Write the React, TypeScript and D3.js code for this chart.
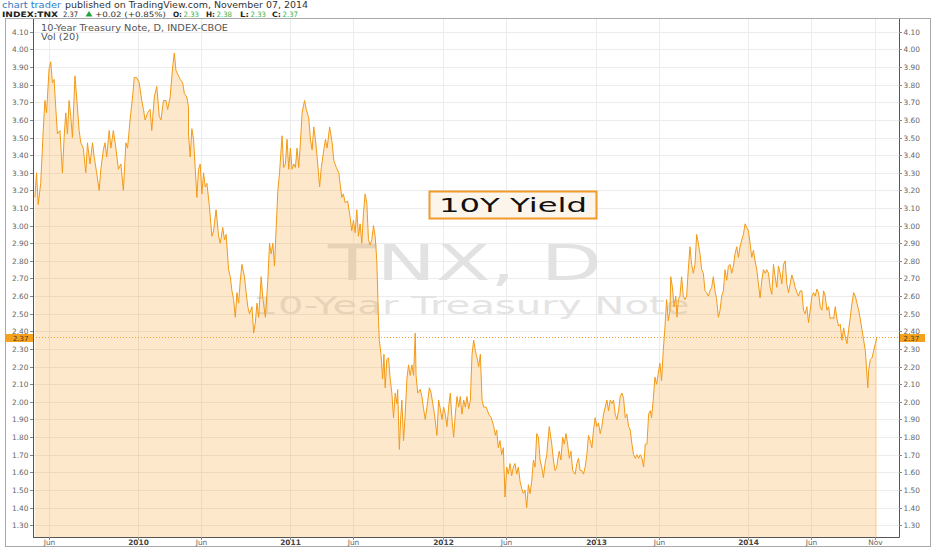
import { useEffect, useRef } from "react";
import * as d3 from "d3";

// [days after segment start, yield %]
const seg2009: [number, number][] = [
  [16, 3.16], [20, 3.3], [24, 3.12], [30, 3.24], [36, 3.54], [40, 3.71], [44, 3.64], [50, 3.89],
  [54, 3.93], [58, 3.81], [62, 3.83], [66, 3.67], [70, 3.52], [76, 3.54], [82, 3.3], [86, 3.5],
  [90, 3.64], [94, 3.52], [98, 3.71], [102, 3.62], [106, 3.5], [112, 3.85], [116, 3.73], [122, 3.54],
  [126, 3.47], [132, 3.44], [138, 3.3], [142, 3.47], [148, 3.35], [154, 3.47], [158, 3.39], [164, 3.3],
  [170, 3.2], [174, 3.32], [180, 3.43], [184, 3.47], [188, 3.39], [194, 3.54], [198, 3.44], [204, 3.54],
  [210, 3.44], [216, 3.32], [222, 3.35], [228, 3.2], [234, 3.47], [238, 3.44], [244, 3.6], [250, 3.73],
  [254, 3.84], [260, 3.84], [266, 3.81], [272, 3.71], [276, 3.66], [280, 3.6], [286, 3.64], [292, 3.66],
  [296, 3.54], [302, 3.73], [308, 3.79], [314, 3.62], [318, 3.6], [324, 3.71], [330, 3.71], [334, 3.66],
  [340, 3.73], [346, 3.9], [350, 3.98], [354, 3.88], [358, 3.86], [364, 3.83], [370, 3.81], [374, 3.75],
  [380, 3.73], [384, 3.67],
];

const seg2010: [number, number][] = [
  [20, 3.52], [24, 3.39], [28, 3.55], [32, 3.49], [36, 3.33], [40, 3.16], [44, 3.32], [48, 3.35],
  [52, 3.18], [56, 3.3], [60, 3.22], [64, 3.24], [70, 3.11], [76, 2.94], [80, 2.97], [86, 3.09],
  [92, 2.94], [96, 2.9], [102, 2.99], [106, 2.92], [110, 2.95], [116, 2.75], [120, 2.71], [124, 2.63],
  [128, 2.58], [132, 2.48], [136, 2.62], [140, 2.56], [144, 2.69], [148, 2.78], [154, 2.71], [158, 2.62],
  [162, 2.54], [166, 2.5], [172, 2.54], [176, 2.39], [180, 2.45], [184, 2.56], [188, 2.48], [194, 2.71],
  [198, 2.59], [204, 2.48], [210, 2.69], [214, 2.9], [218, 2.84], [222, 2.9], [226, 2.77], [230, 2.99],
  [234, 3.2], [238, 3.3], [244, 3.51], [248, 3.33], [252, 3.35], [256, 3.49], [260, 3.32], [264, 3.44],
  [268, 3.32], [272, 3.35], [276, 3.33], [280, 3.44], [284, 3.33], [288, 3.47], [292, 3.64], [298, 3.71],
  [302, 3.66], [308, 3.61], [312, 3.49], [316, 3.43], [320, 3.56], [324, 3.49], [328, 3.39], [334, 3.22],
  [338, 3.33], [344, 3.43], [348, 3.49], [352, 3.44], [358, 3.56], [364, 3.47], [368, 3.37], [374, 3.33],
  [380, 3.3], [384, 3.22],
];

const seg2011: [number, number][] = [
  [16, 3.16], [20, 3.18], [24, 3.13], [30, 3.14], [36, 3.05], [40, 2.97], [44, 3.03], [48, 2.96],
  [52, 3.09], [56, 2.94], [60, 3.01], [64, 2.9], [68, 3.07], [72, 3.18], [76, 3.13], [80, 2.92],
  [84, 2.89], [88, 2.92], [92, 3.0], [96, 2.94], [100, 2.8], [104, 2.46], [106, 2.35], [110, 2.27],
  [114, 2.13], [117, 2.27], [120, 2.08], [124, 2.24], [128, 2.25], [132, 2.13], [136, 2.05], [140, 1.91],
  [144, 2.05], [148, 1.99], [150, 2.07], [154, 1.73], [157, 1.9], [160, 2.01], [164, 1.78], [168, 1.93],
  [172, 2.13], [176, 2.21], [180, 2.15], [184, 2.21], [188, 2.15], [192, 2.39], [194, 2.15], [198, 2.05],
  [204, 2.07], [208, 2.03], [212, 1.96], [216, 1.9], [220, 1.97], [226, 2.08], [230, 2.05], [234, 1.99],
  [238, 1.93], [244, 1.81], [248, 2.01], [252, 1.96], [256, 1.9], [260, 1.97], [264, 1.93], [268, 1.86],
  [272, 1.97], [276, 2.05], [280, 1.9], [284, 1.8], [288, 1.93], [292, 2.03], [296, 1.97], [300, 2.03],
  [304, 1.93], [308, 2.01], [312, 1.97], [316, 2.03], [320, 1.96], [324, 2.01], [328, 2.27], [332, 2.35],
  [336, 2.29], [340, 2.25], [344, 2.2], [348, 2.27], [352, 2.01], [356, 1.97], [362, 1.97], [368, 1.93],
  [374, 1.91], [380, 1.86], [384, 1.81],
];

const seg2012: [number, number][] = [
  [16, 1.84], [20, 1.74], [24, 1.78], [28, 1.7], [32, 1.74], [36, 1.46], [40, 1.63], [44, 1.59],
  [48, 1.65], [52, 1.58], [56, 1.63], [60, 1.65], [64, 1.59], [68, 1.63], [72, 1.55], [76, 1.51],
  [80, 1.48], [84, 1.5], [88, 1.4], [92, 1.53], [96, 1.48], [100, 1.55], [104, 1.67], [108, 1.63],
  [112, 1.82], [116, 1.8], [120, 1.67], [124, 1.63], [128, 1.57], [132, 1.65], [136, 1.7], [142, 1.86],
  [148, 1.76], [152, 1.67], [156, 1.61], [160, 1.63], [164, 1.7], [166, 1.72], [170, 1.67], [174, 1.8],
  [178, 1.76], [182, 1.82], [186, 1.76], [190, 1.68], [194, 1.72], [198, 1.61], [204, 1.59], [208, 1.65],
  [212, 1.68], [216, 1.61], [220, 1.61], [224, 1.59], [228, 1.63], [232, 1.7], [236, 1.81], [240, 1.78],
  [244, 1.74], [248, 1.84], [252, 1.91], [256, 1.86], [260, 1.88], [264, 1.82], [268, 1.86], [272, 1.93],
  [276, 1.97], [280, 2.01], [284, 1.95], [288, 2.01], [292, 1.99], [296, 2.01], [300, 1.93], [304, 1.9],
  [308, 1.95], [312, 2.03], [316, 2.05], [320, 2.02], [324, 1.91], [328, 1.93], [332, 1.86], [336, 1.84],
  [340, 1.76], [344, 1.7], [348, 1.68], [352, 1.7], [356, 1.68], [360, 1.7], [364, 1.68], [368, 1.63],
  [372, 1.76], [376, 1.76], [380, 1.93], [384, 1.95],
];

const seg2013: [number, number][] = [
  [16, 1.91], [20, 2.01], [24, 2.14], [28, 2.1], [32, 2.16], [36, 2.22], [40, 2.12], [44, 2.29],
  [48, 2.42], [52, 2.58], [56, 2.46], [60, 2.52], [62, 2.71], [66, 2.65], [70, 2.54], [74, 2.6],
  [77, 2.48], [80, 2.58], [84, 2.6], [88, 2.71], [92, 2.6], [96, 2.58], [100, 2.6], [104, 2.75],
  [108, 2.88], [112, 2.78], [116, 2.73], [120, 2.78], [124, 2.95], [128, 2.9], [132, 2.84], [136, 2.75],
  [140, 2.73], [144, 2.63], [148, 2.62], [152, 2.6], [156, 2.63], [160, 2.65], [164, 2.71], [168, 2.63],
  [172, 2.58], [176, 2.48], [180, 2.52], [184, 2.6], [188, 2.63], [192, 2.75], [196, 2.69], [200, 2.77],
  [204, 2.78], [208, 2.73], [212, 2.77], [216, 2.84], [220, 2.88], [224, 2.82], [228, 2.88], [232, 2.92],
  [236, 2.95], [240, 3.01], [244, 2.99], [248, 2.97], [252, 2.9], [256, 2.82], [260, 2.86], [264, 2.8],
  [268, 2.75], [272, 2.67], [276, 2.59], [280, 2.69], [284, 2.75], [288, 2.73], [292, 2.75], [296, 2.73],
  [300, 2.65], [304, 2.61], [308, 2.78], [312, 2.71], [316, 2.65], [320, 2.77], [324, 2.73], [328, 2.67],
  [332, 2.78], [336, 2.8],
];

const seg2014: [number, number][] = [
  [16, 2.67], [20, 2.62], [24, 2.67], [28, 2.72], [32, 2.69], [36, 2.65], [40, 2.62], [44, 2.6],
  [48, 2.63], [52, 2.63], [56, 2.52], [60, 2.5], [64, 2.54], [68, 2.45], [72, 2.52], [76, 2.6],
  [80, 2.62], [84, 2.6], [88, 2.64], [92, 2.62], [96, 2.54], [100, 2.52], [104, 2.63], [108, 2.6],
  [112, 2.52], [116, 2.54], [120, 2.47], [124, 2.48], [128, 2.47], [132, 2.54], [136, 2.47], [140, 2.43],
  [144, 2.44], [148, 2.35], [152, 2.42], [156, 2.37], [160, 2.33], [164, 2.41], [168, 2.48], [172, 2.56],
  [176, 2.62], [180, 2.6], [184, 2.56], [188, 2.52], [192, 2.47], [196, 2.41], [200, 2.35], [204, 2.29],
  [210, 2.08], [212, 2.18], [216, 2.24], [220, 2.25], [224, 2.29], [228, 2.33], [232, 2.37],
];

const segmentStarts = ["2009-04-13", "2010-04-12", "2011-04-18", "2012-04-23", "2013-04-29", "2014-03-19"];
const segmentPoints = [seg2009, seg2010, seg2011, seg2012, seg2013, seg2014];

const xTickDates = [
  "2009-06-01", "2010-01-01", "2010-06-01", "2011-01-01", "2011-06-01", "2012-01-01",
  "2012-06-01", "2013-01-01", "2013-06-01", "2014-01-01", "2014-06-01", "2014-11-01",
];
const yTickValues = d3.range(13, 42).map((d) => d / 10);

const lastPrice = 2.37;
const headerQuote = [
  { label: "O:", value: "2.33", x: 173 },
  { label: "H:", value: "2.38", x: 206 },
  { label: "L:", value: "2.33", x: 240 },
  { label: "C:", value: "2.37", x: 272 },
];

const W = 932;
const H = 550;
const FONT = "'DejaVu Sans', Verdana, sans-serif";

export default function App() {
  const svgRef = useRef<SVGSVGElement | null>(null);

  useEffect(() => {
    const svg = d3.select(svgRef.current);
    svg.selectAll("*").remove();

    const plot = { left: 33, right: 899, top: 19, bottom: 537 };
    const parse = d3.timeParse("%Y-%m-%d");

    const data = segmentPoints.flatMap((pts, i) => {
      const start = parse(segmentStarts[i]) as Date;
      return pts.map(([d, v]) => ({ date: d3.timeDay.offset(start, d), value: v }));
    });

    const x = d3
      .scaleTime()
      .domain([new Date(2010, 0, 1), new Date(2014, 0, 1)])
      .range([138, 748]);
    const y = d3.scaleLinear().domain([1.3, 4.1]).range([525.2, 31.8]);

    // frame
    svg
      .append("rect")
      .attr("x", 5.5)
      .attr("y", 18.5)
      .attr("width", 925)
      .attr("height", 528)
      .attr("fill", "#fff")
      .attr("stroke", "#a9a9a9");

    // header
    const h1 = svg.append("g").attr("font-size", 8.6);
    h1.append("text")
      .attr("x", 2)
      .attr("y", 8.4)
      .attr("fill", "#2f7bc4")
      .attr("textLength", 59)
      .attr("lengthAdjust", "spacingAndGlyphs")
      .text("chart trader");
    h1.append("text")
      .attr("x", 65)
      .attr("y", 8.4)
      .attr("fill", "#333")
      .attr("textLength", 243)
      .attr("lengthAdjust", "spacingAndGlyphs")
      .text("published on TradingView.com, November 07, 2014");

    const h2 = svg.append("g").attr("font-size", 7.4).attr("font-weight", "bold");
    const h2text = (s: string, x0: number, len: number, fill: string, bold = true) =>
      h2
        .append("text")
        .attr("x", x0)
        .attr("y", 16.8)
        .attr("fill", fill)
        .attr("font-weight", bold ? "bold" : "normal")
        .attr("textLength", len)
        .attr("lengthAdjust", "spacingAndGlyphs")
        .text(s);
    h2text("INDEX:TNX", 2, 56, "#222");
    h2text("2.37", 63, 15, "#333", false);
    h2.append("path").attr("d", "M85.5,16.5 L89,11 L92.5,16.5 Z").attr("fill", "#1fa53b");
    h2text("+0.02 (+0.85%)", 95, 71, "#333", false);
    headerQuote.forEach((q) => {
      h2text(q.label, q.x, 9, "#222");
      h2text(q.value, q.x + 10.5, 15.5, "#3cb44b", false);
    });

    const xTicks = xTickDates.map((s) => parse(s) as Date);

    // grid
    const grid = svg.append("g").attr("stroke", "#ececec").attr("stroke-width", 1);
    yTickValues.forEach((v) => {
      grid
        .append("line")
        .attr("x1", plot.left)
        .attr("x2", plot.right)
        .attr("y1", Math.round(y(v)) + 0.5)
        .attr("y2", Math.round(y(v)) + 0.5);
    });
    xTicks.forEach((d) => {
      grid
        .append("line")
        .attr("x1", Math.round(x(d)) + 0.5)
        .attr("x2", Math.round(x(d)) + 0.5)
        .attr("y1", plot.top)
        .attr("y2", plot.bottom);
    });

    // watermark
    svg
      .append("text")
      .attr("x", 465)
      .attr("y", 280)
      .attr("text-anchor", "middle")
      .attr("font-size", 50)
      .attr("fill", "#e2e2e2")
      .attr("textLength", 274)
      .attr("lengthAdjust", "spacingAndGlyphs")
      .text("TNX, D");
    svg
      .append("text")
      .attr("x", 471)
      .attr("y", 314)
      .attr("text-anchor", "middle")
      .attr("font-size", 24)
      .attr("fill", "#e4e4e4")
      .attr("textLength", 437)
      .attr("lengthAdjust", "spacingAndGlyphs")
      .text("10-Year Treasury Note");

    // area + line
    const area = d3
      .area<{ date: Date; value: number }>()
      .x((d) => x(d.date))
      .y0(plot.bottom)
      .y1((d) => y(d.value));
    const line = d3
      .line<{ date: Date; value: number }>()
      .x((d) => x(d.date))
      .y((d) => y(d.value));

    svg.append("path").datum(data).attr("d", area).attr("fill", "rgba(247,158,40,0.24)");
    svg
      .append("path")
      .datum(data)
      .attr("d", line)
      .attr("fill", "none")
      .attr("stroke", "#f39a16")
      .attr("stroke-width", 1)
      .attr("stroke-linejoin", "round");

    // last price line
    const yp = Math.round(y(lastPrice)) + 0.5;
    svg
      .append("line")
      .attr("x1", plot.left)
      .attr("x2", plot.right)
      .attr("y1", yp)
      .attr("y2", yp)
      .attr("stroke", "#f4a23a")
      .attr("stroke-dasharray", "1,2");

    // chart title
    svg
      .append("text")
      .attr("x", 41)
      .attr("y", 31)
      .attr("font-size", 8.6)
      .attr("fill", "#555")
      .attr("textLength", 187)
      .attr("lengthAdjust", "spacingAndGlyphs")
      .text("10-Year Treasury Note, D, INDEX-CBOE");
    svg
      .append("text")
      .attr("x", 41)
      .attr("y", 40)
      .attr("font-size", 8.6)
      .attr("fill", "#555")
      .attr("textLength", 38)
      .attr("lengthAdjust", "spacingAndGlyphs")
      .text("Vol (20)");

    // 10Y Yield label
    svg
      .append("rect")
      .attr("x", 429.5)
      .attr("y", 191.5)
      .attr("width", 167)
      .attr("height", 27)
      .attr("fill", "#fcf5ec")
      .attr("stroke", "#f09a2a")
      .attr("stroke-width", 2);
    svg
      .append("text")
      .attr("x", 439)
      .attr("y", 212)
      .attr("font-size", 19.5)
      .attr("fill", "#111")
      .attr("textLength", 148)
      .attr("lengthAdjust", "spacingAndGlyphs")
      .text("10Y Yield");

    // axes
    const axes = svg.append("g").attr("stroke", "#555").attr("stroke-width", 1);
    axes.append("line").attr("x1", plot.left + 0.5).attr("x2", plot.left + 0.5).attr("y1", plot.top).attr("y2", plot.bottom + 0.5);
    axes.append("line").attr("x1", plot.right + 0.5).attr("x2", plot.right + 0.5).attr("y1", plot.top).attr("y2", plot.bottom + 0.5);
    axes.append("line").attr("x1", plot.left).attr("x2", plot.right + 0.5).attr("y1", plot.bottom + 0.5).attr("y2", plot.bottom + 0.5);

    const labels = svg.append("g").attr("font-size", 7.4).attr("fill", "#666");
    yTickValues.forEach((v) => {
      const yy = Math.round(y(v)) + 0.5;
      axes.append("line").attr("x1", plot.left - 3).attr("x2", plot.left).attr("y1", yy).attr("y2", yy).attr("stroke", "#888");
      axes.append("line").attr("x1", plot.right).attr("x2", plot.right + 3).attr("y1", yy).attr("y2", yy).attr("stroke", "#888");
      labels.append("text").attr("x", plot.left - 4.5).attr("y", yy + 2.6).attr("text-anchor", "end").text(d3.format(".2f")(v));
      labels.append("text").attr("x", plot.right + 4.5).attr("y", yy + 2.6).text(d3.format(".2f")(v));
    });

    xTicks.forEach((d) => {
      const xx = Math.round(x(d)) + 0.5;
      const isYear = d.getMonth() === 0;
      axes.append("line").attr("x1", xx).attr("x2", xx).attr("y1", plot.bottom).attr("y2", plot.bottom + 3).attr("stroke", "#888");
      svg
        .append("text")
        .attr("x", xx)
        .attr("y", 545)
        .attr("text-anchor", "middle")
        .attr("font-size", 7.4)
        .attr("font-weight", isYear ? "bold" : "normal")
        .attr("fill", isYear ? "#444" : "#666")
        .text(isYear ? d3.timeFormat("%Y")(d) : d3.timeFormat("%b")(d));
    });

    // price labels on both axes
    const priceText = d3.format(".2f")(lastPrice);
    [
      { x0: 6, x1: plot.left, anchor: "end", tx: plot.left - 4.5 },
      { x0: plot.right + 1, x1: 925, anchor: "start", tx: plot.right + 4.5 },
    ].forEach((p) => {
      svg
        .append("rect")
        .attr("x", p.x0)
        .attr("y", yp - 3.5)
        .attr("width", p.x1 - p.x0)
        .attr("height", 8)
        .attr("fill", "#f4a11e");
      svg
        .append("text")
        .attr("x", p.tx)
        .attr("y", yp + 3)
        .attr("text-anchor", p.anchor)
        .attr("font-size", 7)
        .attr("fill", "#4a3a20")
        .text(priceText);
    });
  }, []);

  return (
    <svg
      ref={svgRef}
      width={W}
      height={H}
      style={{ position: "absolute", left: 0, top: 0, fontFamily: FONT, background: "#fff" }}
    />
  );
}
